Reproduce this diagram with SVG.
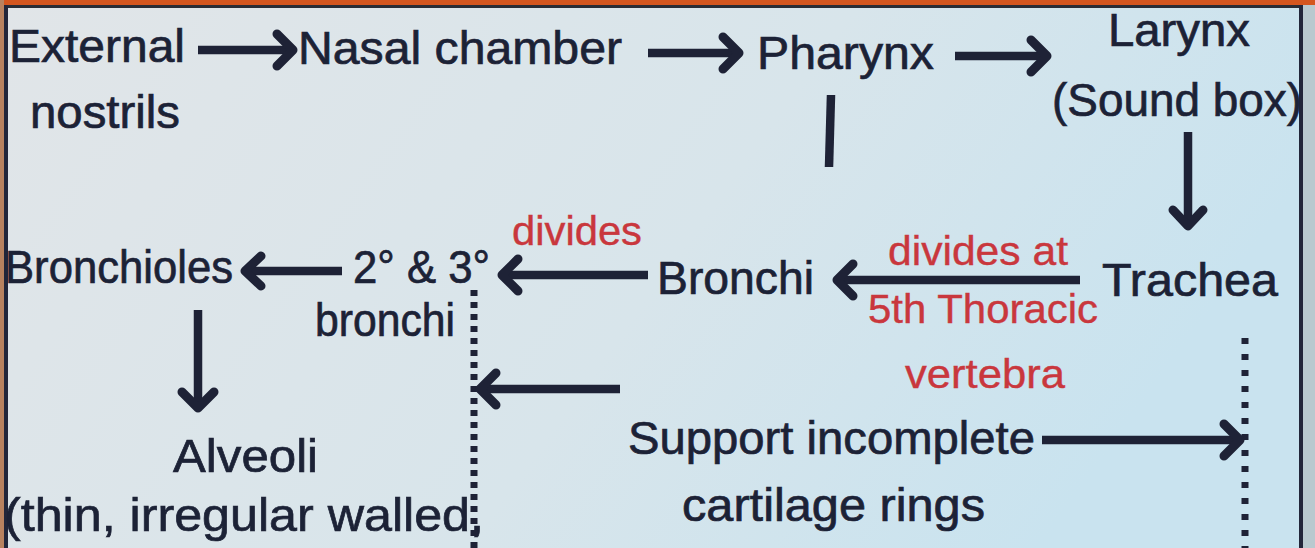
<svg xmlns="http://www.w3.org/2000/svg" width="1315" height="548" viewBox="0 0 1315 548">
  <defs>
    <linearGradient id="bg" x1="0" y1="0" x2="1" y2="0.3">
      <stop offset="0" stop-color="#e1e5e8"/>
      <stop offset="0.6" stop-color="#d8e5eb"/>
      <stop offset="1" stop-color="#c9e3ef"/>
    </linearGradient>
    <style>
      .t { font-family: "Liberation Sans", Arial, sans-serif; font-size: 47px; fill: #1c2236; stroke: #1c2236; stroke-width: 0.7px; }
      .r { font-family: "Liberation Sans", Arial, sans-serif; font-size: 41px; fill: #c9373d; stroke: #c9373d; stroke-width: 0.4px; }
      .ln { stroke: #1e2236; stroke-width: 8.5; fill: none; stroke-linecap: butt; }
      .hd { stroke: #1e2236; stroke-width: 9; fill: none; stroke-linecap: round; stroke-linejoin: round; }
      .dot { stroke: #1e2236; stroke-width: 7; fill: none; }
    </style>
  </defs>

  <!-- background & frame -->
  <rect x="0" y="0" width="1315" height="548" fill="url(#bg)"/>
  <rect x="1303" y="0" width="12" height="548" fill="#b9c9cf"/>
  <rect x="0" y="0" width="1315" height="5" fill="#d4561f"/>
  <rect x="0" y="5" width="1303" height="3" fill="#2a2c35"/>
  <rect x="0" y="0" width="4" height="548" fill="#b8825f"/>
  <rect x="4" y="5" width="4" height="543" fill="#22263a"/>
  <rect x="1299" y="5" width="4" height="543" fill="#22263a"/>

  <!-- nodes -->
  <g id="external-nostrils">
    <text class="t" x="9" y="62" textLength="176" lengthAdjust="spacingAndGlyphs">External</text>
    <text class="t" x="30" y="128" textLength="150" lengthAdjust="spacingAndGlyphs">nostrils</text>
  </g>
  <g id="nasal-chamber">
    <text class="t" x="298" y="64" textLength="324" lengthAdjust="spacingAndGlyphs">Nasal chamber</text>
  </g>
  <g id="pharynx">
    <text class="t" x="757" y="69" textLength="177" lengthAdjust="spacingAndGlyphs">Pharynx</text>
  </g>
  <g id="larynx">
    <text class="t" x="1108" y="46" textLength="142" lengthAdjust="spacingAndGlyphs">Larynx</text>
    <text class="t" x="1052" y="116" textLength="250" lengthAdjust="spacingAndGlyphs">(Sound box)</text>
  </g>
  <g id="trachea">
    <text class="t" x="1102" y="296" textLength="176" lengthAdjust="spacingAndGlyphs">Trachea</text>
  </g>
  <g id="bronchi">
    <text class="t" x="657" y="294" textLength="157" lengthAdjust="spacingAndGlyphs">Bronchi</text>
  </g>
  <g id="secondary-tertiary-bronchi">
    <text class="t" x="353" y="283" textLength="137" lengthAdjust="spacingAndGlyphs">2° &amp; 3°</text>
    <text class="t" x="315" y="336" textLength="140" lengthAdjust="spacingAndGlyphs">bronchi</text>
  </g>
  <g id="bronchioles">
    <text class="t" x="5" y="283" textLength="228" lengthAdjust="spacingAndGlyphs">Bronchioles</text>
  </g>
  <g id="alveoli">
    <text class="t" x="173" y="472" textLength="145" lengthAdjust="spacingAndGlyphs">Alveoli</text>
    <text class="t" x="4" y="531" textLength="480" lengthAdjust="spacingAndGlyphs">(thin, irregular walled,</text>
  </g>
  <g id="support">
    <text class="t" x="628" y="454" textLength="407" lengthAdjust="spacingAndGlyphs">Support incomplete</text>
    <text class="t" x="682" y="521" textLength="303" lengthAdjust="spacingAndGlyphs">cartilage rings</text>
  </g>

  <!-- labels -->
  <g id="labels">
    <text class="r" x="512" y="245" textLength="130" lengthAdjust="spacingAndGlyphs">divides</text>
    <text class="r" x="888" y="265" textLength="180" lengthAdjust="spacingAndGlyphs">divides at</text>
    <text class="r" x="868" y="323" textLength="230" lengthAdjust="spacingAndGlyphs">5th Thoracic</text>
    <text class="r" x="905" y="388" textLength="160" lengthAdjust="spacingAndGlyphs">vertebra</text>
  </g>

  <!-- connectors -->
  <g id="connectors">
    <!-- External -> Nasal chamber -->
    <line class="ln" x1="198" y1="50" x2="290" y2="50"/>
    <polyline class="hd" points="277,34 293,50 277,66"/>
    <!-- Nasal chamber -> Pharynx -->
    <line class="ln" x1="648" y1="53" x2="736" y2="53"/>
    <polyline class="hd" points="723,37 739,53 723,69"/>
    <!-- Pharynx -> Larynx -->
    <line class="ln" x1="955" y1="56" x2="1044" y2="56"/>
    <polyline class="hd" points="1031,40 1047,56 1031,72"/>
    <!-- Pharynx stub -->
    <line class="ln" x1="831" y1="95" x2="829" y2="167"/>
    <!-- Larynx -> Trachea -->
    <line class="ln" x1="1188" y1="132" x2="1188" y2="223"/>
    <polyline class="hd" points="1173,210 1188,226 1203,210"/>
    <!-- Trachea -> Bronchi -->
    <line class="ln" x1="1080" y1="280" x2="840" y2="280"/>
    <polyline class="hd" points="853,264 837,280 853,296"/>
    <!-- Bronchi -> 2° & 3° -->
    <line class="ln" x1="648" y1="275" x2="505" y2="275"/>
    <polyline class="hd" points="518,259 502,275 518,291"/>
    <!-- 2° & 3° -> Bronchioles -->
    <line class="ln" x1="342" y1="271" x2="248" y2="271"/>
    <polyline class="hd" points="261,256 245,271 261,286"/>
    <!-- Bronchioles -> Alveoli -->
    <line class="ln" x1="198" y1="310" x2="198" y2="405"/>
    <polyline class="hd" points="182,392 198,408 214,392"/>
    <!-- dotted brackets -->
    <line class="dot" x1="474" y1="290" x2="474" y2="548" stroke-dasharray="6 6"/>
    <line class="dot" x1="1245" y1="338" x2="1245" y2="548" stroke-dasharray="6 10"/>
    <!-- Support -> 2° & 3° bronchi -->
    <line class="ln" x1="620" y1="389" x2="483" y2="389"/>
    <polyline class="hd" points="496,373 480,389 496,405"/>
    <!-- Support -> Trachea -->
    <line class="ln" x1="1042" y1="440" x2="1237" y2="440"/>
    <polyline class="hd" points="1224,424 1240,440 1224,456"/>
  </g>
</svg>
